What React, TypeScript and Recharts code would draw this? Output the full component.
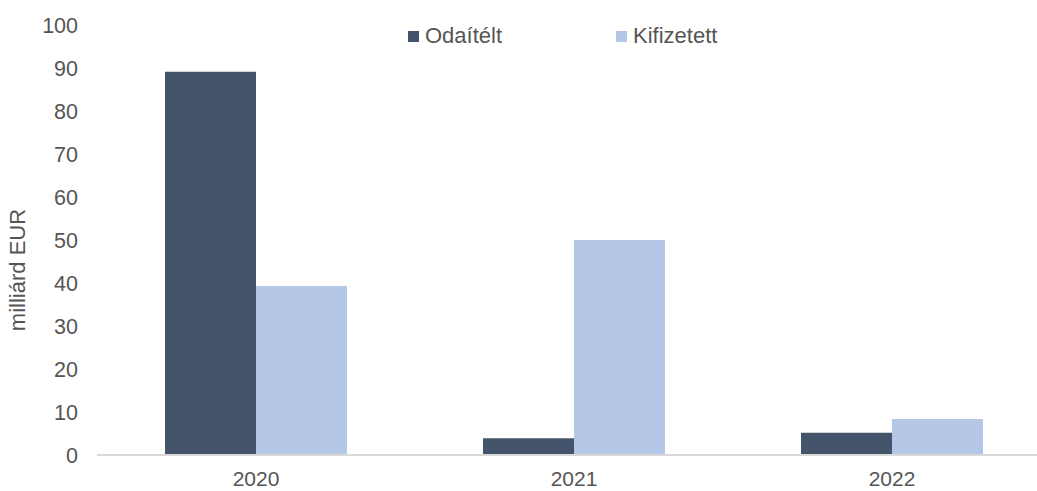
import React from 'react';
import { BarChart, Bar, XAxis, YAxis } from 'recharts';

const categories = ['2020', '2021', '2022'];
const odaitelt = [89.1, 3.9, 5.2];
const kifizetett = [39.3, 50.0, 8.4];
const yTicks = [0, 10, 20, 30, 40, 50, 60, 70, 80, 90, 100];
const seriesNames = ['Odaítélt', 'Kifizetett'];
const colors = ['#44546A', '#B4C7E7'];
const yAxisTitle = 'milliárd EUR';

const data = categories.map((c, i) => ({
  year: c,
  odaitelt: odaitelt[i],
  kifizetett: kifizetett[i],
}));

const FONT = '"Liberation Sans", Arial, sans-serif';
const TEXT = '#555555';

const YTitle = () => (
  <text
    x={17}
    y={270}
    transform="rotate(-90 17 270)"
    textAnchor="middle"
    dominantBaseline="central"
    fontFamily={FONT}
    fontSize={22}
    fill={TEXT}
  >
    {yAxisTitle}
  </text>
);

export default function App() {
  return (
    <div
      style={{
        position: 'absolute',
        left: 0,
        top: 0,
        width: 1037,
        height: 491,
        overflow: 'hidden',
        background: '#fff',
        fontFamily: FONT,
      }}
    >
      <BarChart
        width={1060}
        height={491}
        data={data}
        margin={{ top: 25, right: 9, bottom: 6, left: 0 }}
        barCategoryGap={68}
        barGap={0}
      >
        <XAxis
          dataKey="year"
          tickLine={false}
          axisLine={{ stroke: '#D9D9D9', strokeWidth: 2 }}
          tickSize={0}
          tickMargin={16}
          height={30}
          tick={{ fill: TEXT, fontSize: 21, fontFamily: FONT }}
        />
        <YAxis
          domain={[0, 100]}
          ticks={yTicks}
          interval={0}
          axisLine={false}
          tickLine={false}
          tickSize={0}
          tickMargin={19}
          width={97}
          tick={{ fill: TEXT, fontSize: 21.5, fontFamily: FONT }}
          label={<YTitle />}
        />
        <Bar dataKey="odaitelt" name={seriesNames[0]} fill={colors[0]} isAnimationActive={false} />
        <Bar dataKey="kifizetett" name={seriesNames[1]} fill={colors[1]} isAnimationActive={false} />
      </BarChart>
      <div
        style={{
          position: 'absolute',
          left: 408,
          top: 24,
          display: 'flex',
          alignItems: 'center',
          height: 24,
          fontSize: 22,
          color: TEXT,
          fontFamily: FONT,
        }}
      >
        {seriesNames.map((n, i) => (
          <div
            key={n}
            style={{ display: 'flex', alignItems: 'center', width: i === 0 ? 208 : 'auto' }}
          >
            <span
              style={{ display: 'inline-block', width: 11, height: 11, background: colors[i], marginRight: 6 }}
            />
            <span>{n}</span>
          </div>
        ))}
      </div>
    </div>
  );
}
